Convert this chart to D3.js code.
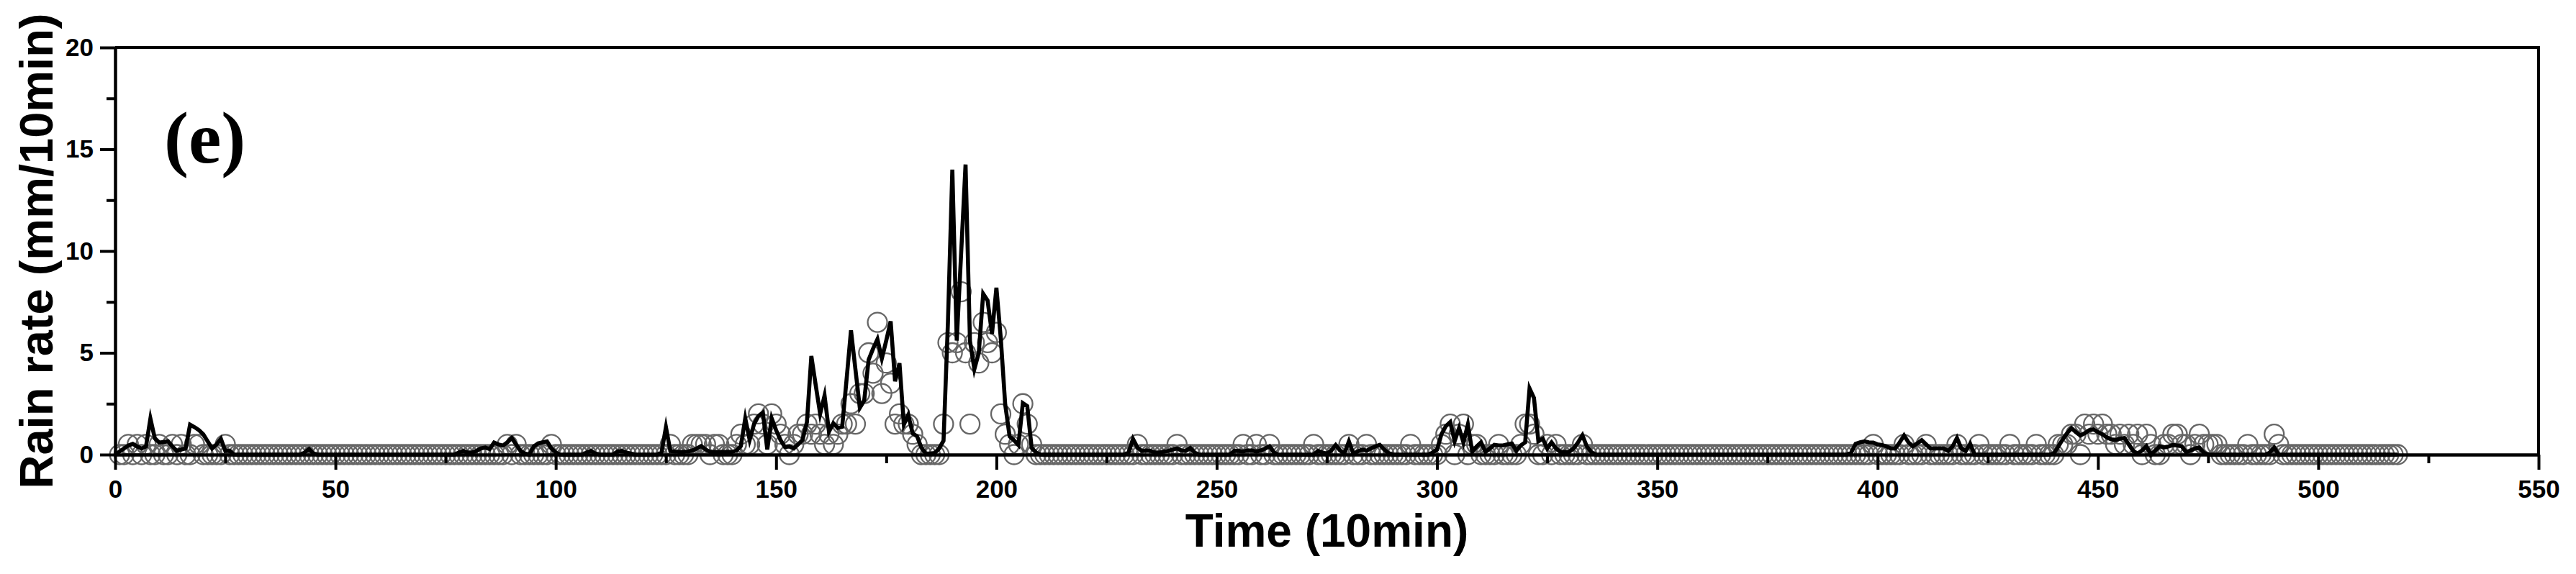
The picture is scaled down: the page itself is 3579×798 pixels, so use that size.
<!DOCTYPE html>
<html><head><meta charset="utf-8">
<script src="https://cdnjs.cloudflare.com/ajax/libs/d3/7.8.5/d3.min.js"></script>
<style>html,body{margin:0;padding:0;background:#fff;} svg{display:block;}</style>
</head><body><svg id="chart" width="3579" height="798"></svg>
<script>
// Modelled rain rate (line), one value per 10-min step, t = 0..518
const modelRate = [
0,0.15,0.3,0.45,0.53,0.4,0.3,0.4,1.77,0.8,0.59,0.62,0.65,0.4,0.18,0.25,0.3,1.47,1.35,1.2,
1.0,0.65,0.3,0.5,0.77,0.18,0.18,0,0,0,0,0,0,0,0,0,0,0,0,0,
0,0,0,0.1,0.27,0.05,0,0,0,0,0,0,0,0,0,0,0,0,0,0,
0,0,0,0,0,0,0,0,0,0,0,0,0,0,0,0,0,0,0.1,0.18,
0.1,0.1,0.18,0.3,0.35,0.27,0.59,0.5,0.44,0.6,0.82,0.5,0.18,0.05,0,0.4,0.55,0.6,0.65,0.3,
0.1,0,0,0,0,0,0,0.1,0.18,0.05,0,0,0,0,0.15,0.18,0.1,0.05,0,0,
0,0,0,0,0.1,1.35,0.18,0.15,0.13,0.13,0.15,0.2,0.3,0.42,0.25,0.13,0.13,0.13,0.13,0.13,
0.13,0.2,0.42,1.78,0.72,1.5,1.9,2.07,0.25,1.78,1.2,0.72,0.37,0.4,0.3,0.5,0.72,1.6,4.84,3.4,
2.0,2.9,1.13,1.54,1.31,1.37,3.7,6.1,4.2,2.3,2.66,4.66,5.2,5.67,4.72,5.6,6.55,3.6,4.49,1.48,
1.95,1.04,0.9,0.33,0.05,0.05,0.08,0.3,0.68,6.5,14.0,5.6,9.9,14.25,5.58,4.2,5.0,7.9,7.57,5.93,
8.2,5.7,2.46,0.9,0.7,0.47,2.53,2.38,0.33,0.1,0,0,0,0,0,0,0,0,0,0,
0,0,0,0,0,0,0,0,0,0,0.1,0.77,0.35,0.18,0.2,0.18,0.1,0.1,0.15,0.18,
0.25,0.3,0.2,0.18,0.32,0.1,0,0,0,0,0,0,0,0,0.18,0.18,0.15,0.2,0.2,0.15,
0.2,0.3,0.41,0.1,0,0,0,0,0,0,0,0,0,0.18,0.1,0.05,0.2,0.47,0.2,0.06,
0.65,0.05,0.15,0.25,0.19,0.3,0.4,0.48,0.25,0.07,0,0,0,0,0,0,0,0,0,0.1,
0.25,1.0,1.4,1.6,0.66,1.3,0.6,1.48,0.13,0.4,0.6,0.13,0.3,0.48,0.45,0.45,0.5,0.54,0.19,0.45,
0.6,3.25,2.78,0.66,0.78,0.3,0.6,0.3,0.13,0.13,0.13,0.3,0.6,0.95,0.4,0.13,0,0,0,0,
0,0,0,0,0,0,0,0,0,0,0,0,0,0,0,0,0,0,0,0,
0,0,0,0,0,0,0,0,0,0,0,0,0,0,0,0,0,0,0,0,
0,0,0,0,0,0,0,0,0,0,0,0,0,0,0.1,0.53,0.6,0.65,0.6,0.59,
0.5,0.47,0.4,0.3,0.3,0.6,0.94,0.6,0.41,0.55,0.71,0.5,0.3,0.3,0.3,0.3,0.18,0.4,0.82,0.3,
0.18,0.53,0,0,0,0,0,0,0,0,0,0,0,0,0,0,0,0,0,0,
0.05,0.4,0.75,1.05,1.3,1.1,0.94,1.05,1.2,1.24,1.1,1.0,0.85,0.75,0.72,0.78,0.82,0.5,0.18,0.05,
0.2,0.41,0,0.2,0.41,0.35,0.4,0.47,0.45,0.41,0.12,0.2,0.3,0.35,0.1,0,0,0,0,0,
0,0,0,0,0,0,0,0,0,0.1,0.35,0,0,0,0,0,0,0,0,0,
0,0,0,0,0,0,0,0,0,0,0,0,0,0,0,0,0,0,0
];

// Observed rain rate (open circles), t = 0..518 (no observation at t = 0)
const observedRate = [
null,0,0,0.5,0,0.5,0,0.5,0,0,0.5,0,0,0.5,0,0.5,0,0,0.5,0.5,
0,0,0,0,0,0.5,0,0,0,0,0,0,0,0,0,0,0,0,0,0,
0,0,0,0,0,0,0,0,0,0,0,0,0,0,0,0,0,0,0,0,
0,0,0,0,0,0,0,0,0,0,0,0,0,0,0,0,0,0,0,0,
0,0,0,0,0,0,0,0,0,0.5,0,0.5,0,0,0,0,0,0,0,0.5,
0,0,0,0,0,0,0,0,0,0,0,0,0,0,0,0,0,0,0,0,
0,0,0,0,0,0,0.5,0,0,0,0,0.5,0.5,0.5,0.5,0,0.5,0.5,0,0,
0,0.5,1.0,0.5,0.5,1.5,2.0,1.5,0.5,2.0,1.5,1.0,0.5,0,0.5,1.0,1.0,1.5,1.0,1.5,
1.0,0.5,1.0,0.5,1.0,1.5,1.5,2.5,1.5,3.0,3.0,5.0,4.0,6.5,3.0,4.5,3.5,1.5,2.0,1.5,
1.5,1.0,0.5,0,0,0,0,0,1.5,5.5,5.0,5.5,8.0,5.0,1.5,5.5,4.5,6.5,5.5,5.0,
6.0,2.0,1.0,0.5,0,0.5,2.5,1.5,0.5,0,0,0,0,0,0,0,0,0,0,0,
0,0,0,0,0,0,0,0,0,0,0,0,0.5,0,0,0,0,0,0,0,
0,0.5,0,0,0,0,0,0,0,0,0,0,0,0,0,0,0.5,0,0,0.5,
0,0,0.5,0,0,0,0,0,0,0,0,0,0.5,0,0,0,0,0,0,0,
0.5,0,0,0,0.5,0,0,0,0,0,0,0,0,0,0.5,0,0,0,0,0,
0,0.5,1.0,1.5,0,1.0,1.5,0,0.5,0.5,0,0,0,0,0.5,0,0,0,0,0.5,
1.5,1.5,1.0,0,0,0.5,0,0.5,0,0,0,0,0,0.5,0,0,0,0,0,0,
0,0,0,0,0,0,0,0,0,0,0,0,0,0,0,0,0,0,0,0,
0,0,0,0,0,0,0,0,0,0,0,0,0,0,0,0,0,0,0,0,
0,0,0,0,0,0,0,0,0,0,0,0,0,0,0,0,0,0,0,0.5,
0,0,0,0,0,0,0.5,0,0,0,0,0.5,0,0,0,0,0,0,0.5,0,
0,0,0,0.5,0,0,0,0,0,0,0.5,0,0,0,0,0,0.5,0,0,0,
0,0.5,0.5,0.5,1.0,1.0,0,1.5,1.0,1.5,1.0,1.5,1.0,1.0,0.5,1.0,0.5,1.0,0.5,1.0,
0,1.0,0.5,0,0,0.5,0.5,1.0,1.0,0.5,0.5,0,0.5,1.0,0.5,0.5,0.5,0.5,0,0,
0,0,0,0,0.5,0,0,0,0,0,1.0,0.5,0,0,0,0,0,0,0,0,
0,0,0,0,0,0,0,0,0,0,0,0,0,0,0,0,0,0,0
];

const xMajorTicks = [0,50,100,150,200,250,300,350,400,450,500,550];
const xMinorTicks = [25,75,125,175,225,275,325,375,425,475,525];
const yMajorTicks = [0,5,10,15,20];
const yMinorTicks = [2.5,7.5,12.5,17.5];
const xDomain = [0,550];
const yDomain = [0,20];
const xTitle = "Time (10min)";
const yTitle = "Rain rate (mm/10min)";
const panelLabel = "(e)";

const svg = d3.select("#chart");
const W = 3579, H = 798;
const plot = {left:160, right:3527, top:66, bottom:632};

svg.append("rect").attr("width",W).attr("height",H).attr("fill","#fff");

const x = d3.scaleLinear().domain(xDomain).range([plot.left, plot.right]);
const y = d3.scaleLinear().domain(yDomain).range([plot.bottom, plot.top]);

const font = "'Liberation Sans', Arial, sans-serif";

// observed circles
const obsPts = observedRate.map((v,i)=>({t:i, v:v})).filter(d=>d.v!==null);
svg.append("g")
  .selectAll("circle").data(obsPts).join("circle")
  .attr("cx", d=>x(d.t)).attr("cy", d=>y(d.v)).attr("r", 13.5)
  .attr("fill","none").attr("stroke","#666").attr("stroke-width",2.3);

// model line
const line = d3.line().x((d,i)=>x(i)).y(d=>y(d));
svg.append("path").datum(modelRate)
  .attr("d", line).attr("fill","none").attr("stroke","#000")
  .attr("stroke-width",5.6).attr("stroke-linejoin","miter").attr("stroke-miterlimit",6);

// frame top & right
svg.append("line").attr("x1",plot.left).attr("x2",plot.right+2).attr("y1",plot.top).attr("y2",plot.top)
  .attr("stroke","#000").attr("stroke-width",4);
svg.append("line").attr("x1",plot.right).attr("x2",plot.right).attr("y1",plot.top).attr("y2",plot.bottom)
  .attr("stroke","#000").attr("stroke-width",4);

function styleAxis(g){
  g.select(".domain").attr("stroke","#000").attr("stroke-width",4);
  g.selectAll(".tick line").attr("stroke","#000").attr("stroke-width",4);
  g.selectAll(".tick text").attr("fill","#000").style("font-family",font)
    .style("font-weight","bold").style("font-size","35px");
}

// x axis
const gxMinor = svg.append("g").attr("transform",`translate(0,${plot.bottom})`)
  .call(d3.axisBottom(x).tickValues(xMinorTicks).tickSize(12).tickSizeOuter(0).tickFormat(""));
styleAxis(gxMinor);
const gx = svg.append("g").attr("transform",`translate(0,${plot.bottom})`)
  .call(d3.axisBottom(x).tickValues(xMajorTicks).tickSize(21).tickSizeOuter(0).tickPadding(14).tickFormat(d3.format("d")));
styleAxis(gx);

// y axis
const gyMinor = svg.append("g").attr("transform",`translate(${plot.left},0)`)
  .call(d3.axisLeft(y).tickValues(yMinorTicks).tickSize(12).tickSizeOuter(0).tickFormat(""));
styleAxis(gyMinor);
const gy = svg.append("g").attr("transform",`translate(${plot.left},0)`)
  .call(d3.axisLeft(y).tickValues(yMajorTicks).tickSize(21).tickSizeOuter(0).tickPadding(9).tickFormat(d3.format("d")));
styleAxis(gy);

// titles
svg.append("text").attr("x",(plot.left+plot.right)/2).attr("y",760)
  .attr("text-anchor","middle").style("font-family",font).style("font-weight","bold")
  .style("font-size","64px").text(xTitle);
svg.append("text").attr("transform",`translate(73,${(plot.top+plot.bottom)/2}) rotate(-90)`)
  .attr("text-anchor","middle").style("font-family",font).style("font-weight","bold")
  .style("font-size","65px").text(yTitle);

// panel label
svg.append("text").attr("x",228).attr("y",226)
  .style("font-family","'Liberation Serif', 'Times New Roman', serif").style("font-weight","bold")
  .style("font-size","102px").text(panelLabel);
</script>
</body></html>
